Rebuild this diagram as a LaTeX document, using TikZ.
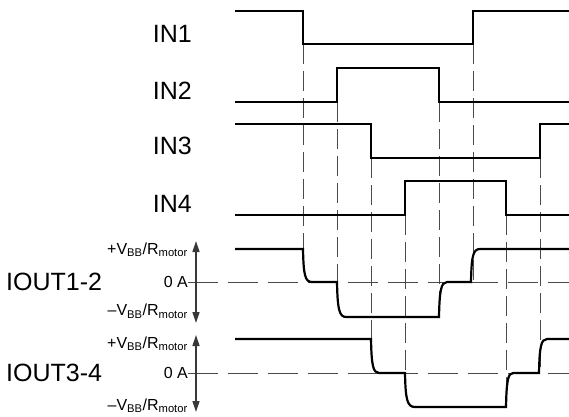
\documentclass[tikz,border=0pt]{standalone}
\usepackage{fontspec}
\setmainfont{Liberation Sans}
\usetikzlibrary{arrows.meta}
\definecolor{guidegray}{HTML}{4A4A4A}

\begin{document}
\begin{tikzpicture}[
        x=1pt,y=-1pt,>=Latex,
        sig/.style={line width=2.2pt,line join=miter},
        guide/.style={draw=guidegray,line width=.9pt,dash pattern=on 20pt off 7pt},
        zeroline/.style={draw=guidegray,line width=.9pt,dash pattern=on 30pt off 10pt},
        axis/.style={{Triangle[length=11pt,width=7pt]}-{Triangle[length=11pt,width=7pt]},
          draw=black!78,line width=1.4pt},
        inlabel/.style={anchor=east,inner sep=0pt,font=\fontsize{25}{28}\selectfont},
        outlabel/.style={anchor=west,inner sep=0pt,font=\fontsize{25}{28}\selectfont},
        level/.style={anchor=base east,inner sep=0pt,font=\fontsize{16}{18}\selectfont}
      ]
        \useasboundingbox (0,0) rectangle (569,416);

        % signal names
        \node[inlabel] (in1) at (192,34) {IN1};
        \node[inlabel] (in2) at (192,91) {IN2};
        \node[inlabel] (in3) at (192,146) {IN3};
        \node[inlabel] (in4) at (192,204) {IN4};
        \node[outlabel] (iout12) at (6,282) {IOUT1-2};
        \node[outlabel] (iout34) at (6,373) {IOUT3-4};

        % current scales
        \node[level] (pos12) at (188,254) {+V\textsubscript{BB}/R\textsubscript{motor}};
        \node[level,anchor=east] (zero12) at (188,282) {0 A};
        \node[level] (neg12) at (188,315.5) {\textendash V\textsubscript{BB}/R\textsubscript{motor}};
        \node[level] (pos34) at (188,348) {+V\textsubscript{BB}/R\textsubscript{motor}};
        \node[level,anchor=east] (zero34) at (188,373) {0 A};
        \node[level] (neg34) at (188,410) {\textendash V\textsubscript{BB}/R\textsubscript{motor}};

        \coordinate (top12) at (196,241);
        \coordinate (bot12) at (196,323);
        \coordinate (top34) at (196,335);
        \coordinate (bot34) at (196,412);
        \coordinate (end12) at (569,282);
        \coordinate (end34) at (569,373);

        % guide lines
        \draw[zeroline] (zero12.east) -- (end12);
        \draw[zeroline] (zero34.east) -- (end34);
        \foreach \x/\ya/\yb in {303/44/249,337/102/282,371/158/339,405/215/373,
          439/102/317,473/44/282,506/215/407,540/158/373}
          \draw[guide] (\x,\ya) -- (\x,\yb);

        \draw[axis] (top12) -- (bot12);
        \draw[axis] (top34) -- (bot34);

        % inputs
        \draw[sig] (235,11) -- (303,11) -- (303,44) -- (473,44) -- (473,11) -- (569,11);
        \draw[sig] (235,102) -- (337,102) -- (337,68) -- (439,68) -- (439,102) -- (569,102);
        \draw[sig] (235,124) -- (371,124) -- (371,158) -- (540,158) -- (540,124) -- (569,124);
        \draw[sig] (235,215) -- (405,215) -- (405,181) -- (506,181) -- (506,215) -- (569,215);

        % outputs
        \draw[sig] (235,249) -- (303,249) .. controls (303.5,275) and (305,282) .. (312,282)
          -- (337,282) .. controls (337.5,308) and (339,317) .. (346,317)
          -- (439,317) .. controls (439.5,291) and (441,282) .. (447,282)
          -- (471,282) .. controls (471.5,256) and (473,249) .. (480,249) -- (569,249);
        \draw[sig] (235,339) -- (371,339) .. controls (371.5,365) and (373,373) .. (379,373)
          -- (405,373) .. controls (405.5,399) and (407,407) .. (415,407)
          -- (506,407) .. controls (506.5,381) and (508,373) .. (513,373)
          -- (539,373) .. controls (539.5,347) and (541,339) .. (547,339) -- (569,339);
      \end{tikzpicture}
\end{document}
